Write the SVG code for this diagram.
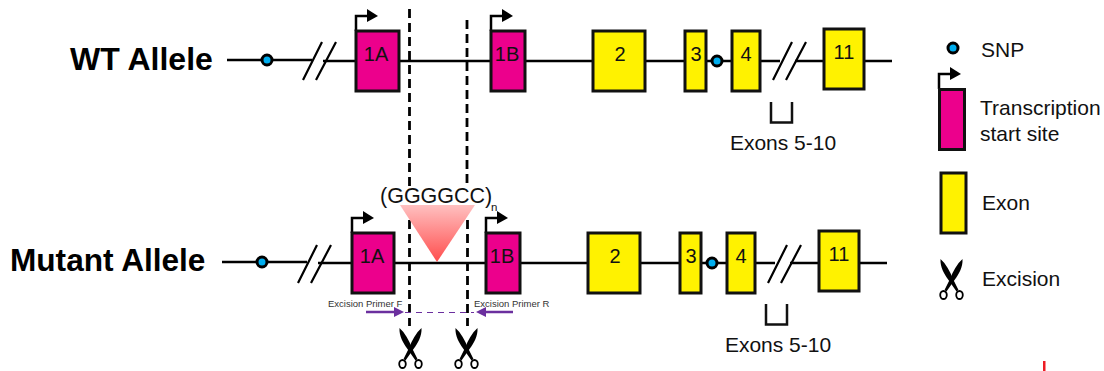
<svg xmlns="http://www.w3.org/2000/svg" width="1104" height="371" viewBox="0 0 1104 371">
<style>
text{font-family:"Liberation Sans",Arial,sans-serif;fill:#111}
.t{font-size:21px}.l{font-size:20px;text-anchor:middle}
.h{font-size:32px;font-weight:bold;fill:#000}
.p{font-size:9.500px;fill:#333}
.ln{stroke:#000;stroke-width:2.600;fill:none}
.pink{fill:#ec008c;stroke:#111;stroke-width:3}
.yel{fill:#fff200;stroke:#111;stroke-width:3}
.snp{fill:#00aeef;stroke:#000;stroke-width:3}
.cut{stroke:#000;stroke-width:2.800;fill:none;stroke-dasharray:9 5}
.sl{stroke:#000;stroke-width:2.200;fill:none}
.pr{stroke:#6b2f9e;stroke-width:2.500;fill:none}
</style>
<defs>
<linearGradient id="tri" x1="0" y1="0" x2="0" y2="1"><stop offset="0" stop-color="#ffc0c0"/><stop offset="1" stop-color="#ff4d4d"/></linearGradient>
<g id="tss"><path d="M0 0V-15H15" stroke="#000" stroke-width="2.500" fill="none"/><path d="M11 -22L22 -15L11 -9Z" fill="#000"/></g>
<g id="sc">
<path d="M1.500 0C1 8 5 15 9.500 21L17.500 32.500L19.500 31L14 20C11 12 7 5 1.500 0Z" fill="#000"/>
<path d="M23.500 0C24 8 20 15 15.500 21L7.500 32.500L5.500 31L11 20C14 12 18 5 23.500 0Z" fill="#000"/>
<ellipse cx="4.500" cy="36" rx="3.300" ry="4" fill="#fff" stroke="#000" stroke-width="1.800"/>
<ellipse cx="20.500" cy="36" rx="3.300" ry="4" fill="#fff" stroke="#000" stroke-width="1.800"/>
</g>
<g id="slashes"><path d="M0 19L19 -19M13 19L33 -19" class="sl"/></g>
</defs>

<g id="connectors">
<path class="ln" d="M227 60H312M323 61H356M399 61H491M525 61H593M645 61H685M706 61H732M760 61H780M795 61H824M864 61H892"/>
<path class="ln" d="M222 262H307M318 263H352M394 263H486M520 263H588M640 263H680M701 263H727M755 263H775M790 263H819M859 263H887"/>
<path class="cut" d="M409.500 9V186M467 20V186"/>
<path class="cut" d="M409.500 220V326M467.500 220V326"/>
<path d="M771 102V122.500H792V102" stroke="#111" stroke-width="2.500" fill="none"/>
<path d="M766 304V324.500H787V304" stroke="#111" stroke-width="2.500" fill="none"/>
<use href="#slashes" x="303" y="61"/>
<use href="#slashes" x="773" y="61"/>
<use href="#slashes" x="298" y="264"/>
<use href="#slashes" x="768" y="264"/>
<use href="#tss" x="356" y="31"/>
<use href="#tss" x="491" y="31"/>
<use href="#tss" x="352" y="233"/>
<use href="#tss" x="486" y="233"/>
<use href="#tss" x="939" y="89"/>
<path class="pr" d="M366 312H396"/><path d="M394 307L404 312L394 317Z" fill="#6b2f9e"/>
<path class="pr" d="M513 312H484"/><path d="M486 307L476 312L486 317Z" fill="#6b2f9e"/>
<path d="M405 312.500H474" stroke="#6b2f9e" stroke-width="1" stroke-dasharray="6 5" fill="none"/>
</g>

<g id="wt-label"><text class="h" x="70" y="70">WT Allele</text></g>
<g id="mutant-label"><text class="h" x="10" y="271" style="font-size:31.600px">Mutant Allele</text></g>

<g id="wt-snp1"><circle class="snp" cx="267" cy="60" r="5"/></g>
<g id="wt-1a"><rect class="pink" x="356" y="31" width="43" height="60"/><text class="l" x="376" y="61">1A</text></g>
<g id="wt-1b"><rect class="pink" x="491" y="31" width="34" height="60"/><text class="l" x="507" y="61">1B</text></g>
<g id="wt-2"><rect class="yel" x="593" y="31" width="52" height="60"/><text class="l" x="620" y="61">2</text></g>
<g id="wt-3"><rect class="yel" x="685" y="31" width="21" height="60"/><text class="l" x="696" y="61">3</text></g>
<g id="wt-snp2"><circle class="snp" cx="717" cy="61" r="5"/></g>
<g id="wt-4"><rect class="yel" x="732" y="31" width="28" height="60"/><text class="l" x="746" y="61">4</text></g>
<g id="wt-11"><rect class="yel" x="824" y="29" width="40" height="60"/><text class="l" x="844" y="59">11</text></g>
<g id="wt-exons"><text class="t" x="783" y="150" text-anchor="middle">Exons 5-10</text></g>

<g id="mut-snp1"><circle class="snp" cx="262" cy="262" r="5"/></g>
<g id="mut-1a"><rect class="pink" x="352" y="233" width="42" height="60"/><text class="l" x="372" y="263">1A</text></g>
<g id="mut-1b"><rect class="pink" x="486" y="233" width="34" height="60"/><text class="l" x="502" y="263">1B</text></g>
<g id="mut-2"><rect class="yel" x="588" y="233" width="52" height="60"/><text class="l" x="615" y="263">2</text></g>
<g id="mut-3"><rect class="yel" x="680" y="233" width="21" height="60"/><text class="l" x="691" y="263">3</text></g>
<g id="mut-snp2"><circle class="snp" cx="712" cy="263" r="5"/></g>
<g id="mut-4"><rect class="yel" x="727" y="233" width="28" height="60"/><text class="l" x="741" y="263">4</text></g>
<g id="mut-11"><rect class="yel" x="819" y="231" width="40" height="60"/><text class="l" x="839" y="261">11</text></g>
<g id="mut-exons"><text class="t" x="778" y="352" text-anchor="middle">Exons 5-10</text></g>

<g id="insert">
<path d="M400 205H475L437 262Z" fill="url(#tri)"/>
<text x="380" y="203" font-size="21.500">(GGGGCC)</text>
<text x="491" y="210.500" font-size="11.500">n</text>
</g>

<g id="primer-f"><text class="p" x="328" y="307">Excision Primer F</text></g>
<g id="primer-r"><text class="p" x="474" y="307">Excision Primer R</text></g>
<g id="scissors-1"><use href="#sc" x="398" y="328"/></g>
<g id="scissors-2"><use href="#sc" x="454" y="328"/></g>

<g id="legend-snp"><circle class="snp" cx="953" cy="48" r="5"/><text class="t" x="981" y="57">SNP</text></g>
<g id="legend-tss"><rect class="pink" x="939.500" y="89.500" width="25" height="60"/><text class="t" x="980" y="115">Transcription</text><text class="t" x="980" y="141">start site</text></g>
<g id="legend-exon"><rect class="yel" x="941" y="173" width="25" height="60"/><text class="t" x="982" y="210">Exon</text></g>
<g id="legend-excision"><use href="#sc" x="939" y="259"/><text class="t" x="982" y="286">Excision</text></g>
<rect id="red-mark" x="1043" y="361" width="2.500" height="10" fill="#ed1c24"/>
</svg>
